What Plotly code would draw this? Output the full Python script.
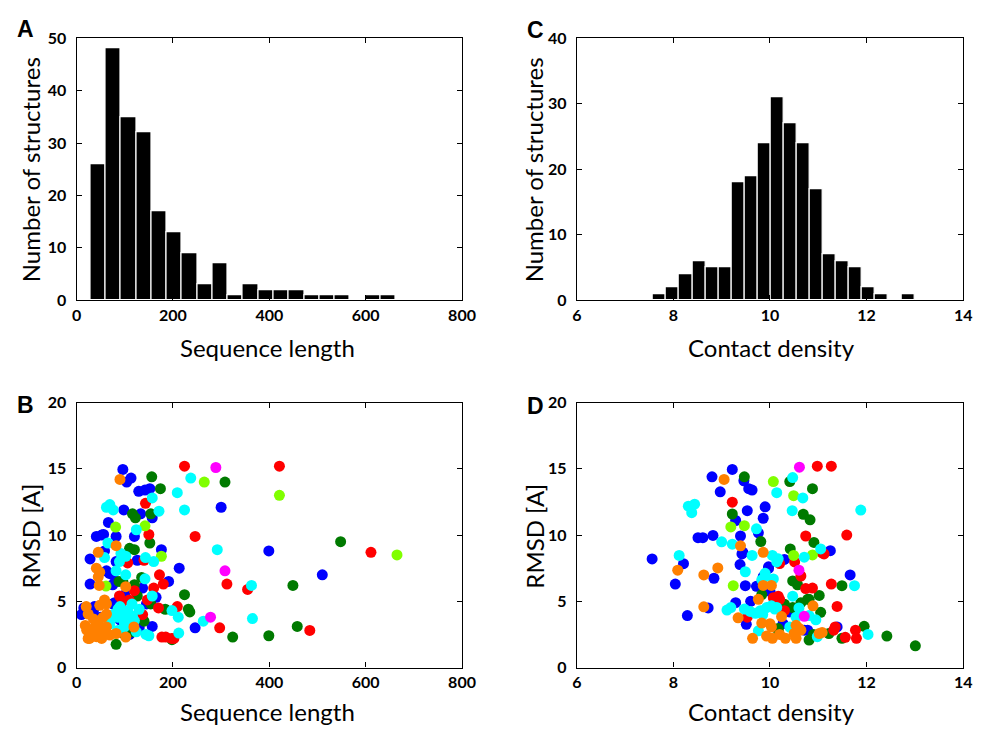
import plotly.graph_objects as go

# ---------------- DATA ----------------
# Panel A: histogram of sequence length
seq_bin_start = 28.5
seq_bin_width = 31.7
seq_counts = [26, 48, 35, 32, 17, 13, 9, 3, 7, 1, 3, 2, 2, 2, 1, 1, 1, 0, 1, 1]

# Panel C: histogram of contact density
cd_bin_start = 7.58
cd_bin_width = 0.2705
cd_counts = [1, 2, 4, 6, 5, 5, 18, 19, 24, 31, 27, 24, 17, 7, 6, 5, 2, 1, 0, 1]

# Panel B: RMSD vs sequence length, grouped by colour
b_blue_x = [96, 113, 104, 129, 142, 152, 98, 300, 133, 157, 66, 41, 52, 56, 82, 120, 58, 28, 82, 126, 176, 62, 75, 191, 213, 28, 75, 137, 79, 15, 10, 157, 246, 110, 79, 399, 510, 35, 100, 145, 165, 50, 130, 90, 68, 75, 37]
b_blue_y = [14.95, 14.3, 14.0, 13.3, 13.4, 13.5, 11.9, 12.1, 11.6, 11.3, 10.95, 9.9, 10.0, 10.05, 9.9, 9.9, 8.8, 8.2, 8.0, 8.1, 8.9, 7.3, 7.0, 6.5, 7.5, 6.3, 6.25, 6.0, 4.9, 4.5, 4.0, 3.1, 3.0, 2.5, 4.0, 8.8, 7.0, 4.3, 5.5, 4.8, 5.3, 3.8, 3.0, 3.6, 7.1, 4.8, 4.6]
b_cyan_x = [237, 157, 209, 69, 76, 62, 171, 224, 124, 65, 58, 92, 102, 89, 143, 160, 82, 102, 142, 157, 198, 211, 130, 86, 96, 106, 116, 120, 99, 85, 76, 69, 99, 212, 144, 124, 292, 363, 263, 365, 110, 90, 115, 150, 85]
b_cyan_y = [14.3, 12.8, 13.2, 12.3, 11.9, 12.1, 11.8, 11.9, 10.4, 9.4, 8.3, 8.6, 8.4, 8.0, 8.3, 8.0, 7.3, 7.0, 6.7, 5.4, 4.3, 3.8, 4.4, 4.4, 4.0, 4.3, 3.9, 3.55, 3.4, 3.8, 4.0, 3.3, 3.06, 2.6, 2.5, 2.7, 8.9, 6.2, 3.5, 3.7, 3.7, 4.6, 4.8, 2.4, 2.8]
b_orange_x = [90, 82, 45, 41, 48, 45, 47, 58, 62, 48, 20, 24, 35, 45, 55, 62, 21, 31, 41, 52, 58, 24, 69, 38, 48, 18, 62, 82, 119, 27, 102, 102]
b_orange_y = [14.2, 9.2, 8.7, 7.5, 7.2, 6.85, 6.2, 5.1, 4.8, 4.7, 4.6, 4.04, 3.67, 3.43, 3.8, 3.06, 2.82, 2.57, 2.33, 2.2, 2.57, 2.2, 2.45, 3.06, 2.82, 3.18, 4.04, 2.57, 3.06, 2.2, 6.1, 2.3]
b_red_x = [224, 143, 150, 246, 140, 106, 172, 160, 89, 109, 147, 209, 137, 185, 202, 421, 611, 312, 355, 297, 484, 120, 130, 170, 180, 95, 177, 197]
b_red_y = [15.2, 12.4, 10.05, 9.9, 8.1, 7.9, 7.0, 6.0, 5.4, 5.1, 5.1, 4.6, 4.0, 2.3, 2.2, 15.2, 8.7, 6.3, 5.9, 3.0, 2.8, 5.8, 4.2, 4.5, 6.3, 5.0, 2.3, 2.2]
b_green_x = [156, 174, 116, 122, 154, 152, 120, 120, 96, 126, 154, 224, 184, 232, 235, 82, 96, 116, 198, 308, 548, 449, 324, 399, 458, 135, 105, 140, 60, 110, 88]
b_green_y = [14.4, 13.5, 11.6, 11.3, 11.6, 9.4, 8.9, 6.25, 6.5, 5.4, 4.8, 5.5, 4.4, 4.4, 4.2, 1.75, 2.6, 2.7, 2.1, 14.0, 9.5, 6.2, 2.3, 2.4, 3.1, 6.8, 3.0, 3.5, 3.0, 9.0, 6.5]
b_lime_x = [265, 421, 665, 81, 142, 176, 61]
b_lime_y = [14.0, 13.0, 8.5, 10.6, 10.7, 8.4, 6.15]
b_magenta_x = [289, 308, 278]
b_magenta_y = [15.1, 7.3, 3.8]

# Panel D: RMSD vs contact density, grouped by colour
d_blue_x = [9.22, 8.80, 9.46, 9.56, 9.63, 8.97, 9.9, 9.53, 9.86, 9.29, 9.76, 8.51, 8.61, 8.82, 9.39, 9.44, 11.25, 7.56, 8.21, 8.84, 8.04, 9.38, 10.3, 9.97, 11.66, 9.49, 9.72, 10.0, 8.29, 9.29, 9.51, 10.78, 11.39, 10.27, 8.72, 9.42, 9.97, 9.86, 10.71, 9.6, 10.4]
d_blue_y = [14.95, 14.4, 14.1, 13.5, 13.4, 13.26, 12.13, 11.84, 11.27, 11.1, 10.17, 9.8, 9.8, 9.97, 9.93, 8.7, 8.82, 8.2, 7.84, 6.74, 6.3, 7.77, 8.16, 7.48, 6.99, 6.18, 6.13, 5.76, 3.92, 4.9, 3.26, 2.82, 3.07, 3.31, 4.5, 8.58, 7.6, 6.86, 2.82, 5.0, 4.2]
d_cyan_x = [10.47, 10.14, 10.68, 8.31, 8.44, 8.38, 10.46, 11.88, 9.72, 9.0, 9.22, 9.63, 10.05, 10.17, 10.71, 11.05, 8.12, 9.49, 9.9, 10.07, 11.75, 9.83, 10.47, 9.11, 9.19, 9.47, 9.59, 9.7, 9.8, 9.93, 10.1, 10.81, 10.95, 10.54, 9.76, 10.98, 12.03, 10.41, 10.14, 9.9, 10.03, 10.14, 10.6, 9.85]
d_cyan_y = [14.34, 13.2, 12.8, 12.18, 12.33, 11.69, 11.84, 11.89, 10.47, 9.49, 9.31, 8.46, 8.46, 8.21, 8.33, 8.95, 8.46, 7.23, 6.86, 6.69, 6.18, 6.62, 5.39, 4.34, 4.53, 4.41, 4.24, 4.09, 4.29, 4.53, 4.41, 3.92, 3.6, 3.8, 2.77, 2.33, 2.5, 3.06, 7.97, 7.11, 4.66, 4.54, 4.5, 4.0]
d_orange_x = [9.05, 9.39, 9.86, 8.09, 8.63, 8.92, 9.86, 10.03, 8.63, 9.76, 9.34, 10.89, 10.24, 9.83, 10.0, 10.54, 10.64, 11.02, 11.08, 9.64, 9.93, 10.05, 10.32, 10.54, 10.03, 10.61, 10.5, 10.2]
d_orange_y = [14.2, 9.19, 8.7, 7.35, 6.99, 7.52, 6.2, 6.2, 4.58, 5.15, 3.75, 4.66, 3.85, 3.36, 3.31, 3.19, 2.82, 2.57, 2.65, 2.21, 2.38, 2.21, 2.21, 2.21, 3.06, 2.94, 2.57, 2.5]
d_red_x = [10.98, 11.27, 9.22, 10.74, 11.59, 11.08, 10.51, 10.64, 10.74, 10.88, 11.27, 10.07, 10.17, 11.39, 9.53, 11.32, 11.56, 11.77, 11.79, 10.3, 10.2, 11.12, 10.2, 11.35]
d_red_y = [15.2, 15.2, 12.48, 9.93, 10.0, 8.65, 7.97, 6.91, 5.96, 6.0, 6.3, 5.27, 5.39, 4.61, 3.8, 2.82, 2.28, 2.82, 2.21, 4.29, 7.85, 8.58, 5.15, 3.07]
d_green_x = [9.47, 10.41, 10.88, 9.22, 10.69, 10.83, 9.81, 10.91, 10.42, 10.47, 10.57, 11.49, 10.78, 11.02, 9.83, 10.3, 10.47, 10.64, 10.81, 11.05, 10.17, 11.22, 11.95, 12.42, 13.01, 10.81, 11.49, 10.17, 10.9]
d_green_y = [14.4, 14.04, 13.5, 11.59, 11.57, 11.15, 9.51, 9.44, 8.95, 6.54, 6.25, 6.18, 5.15, 5.44, 5.51, 4.78, 4.53, 4.9, 5.15, 4.17, 2.82, 2.57, 3.11, 2.38, 1.64, 2.08, 2.21, 2.94, 2.5]
d_lime_x = [10.07, 10.49, 9.19, 9.47, 10.49, 10.88, 9.24]
d_lime_y = [14.04, 12.97, 10.61, 10.71, 8.46, 8.5, 6.18]
d_magenta_x = [10.61, 10.6, 10.71]
d_magenta_y = [15.12, 7.35, 3.87]

# ---------------- STYLE ----------------
W, H = 986, 735
C_BLUE, C_CYAN, C_ORANGE = "#0000ff", "#00ffff", "#ff8000"
C_RED, C_GREEN, C_LIME, C_MAG = "#ff0000", "#007a00", "#80ff00", "#ff00ff"
TICK_FONT = dict(family="Lato", size=16, color="black", weight="bold")
TITLE_FONT = dict(family="Lato", size=24, color="black")
LETTER_FONT = dict(family="Liberation Sans", size=23, color="black", weight="bold")
MARKER_SIZE = 11

def px_x(p):
    return p / W

def px_y(p):
    return 1 - p / H

fig = go.Figure()

# Histograms
seq_centers = [seq_bin_start + (i + 0.5) * seq_bin_width for i in range(len(seq_counts))]
cd_centers = [cd_bin_start + (i + 0.5) * cd_bin_width for i in range(len(cd_counts))]
bar_style = dict(marker=dict(color="black", line=dict(color="white", width=1.2)), showlegend=False)
fig.add_trace(go.Bar(x=seq_centers, y=seq_counts, width=seq_bin_width, xaxis="x", yaxis="y", **bar_style))
fig.add_trace(go.Bar(x=cd_centers, y=cd_counts, width=cd_bin_width, xaxis="x2", yaxis="y2", **bar_style))

# Scatter panels
groups_b = [
    (b_blue_x, b_blue_y, C_BLUE), (b_green_x, b_green_y, C_GREEN), (b_red_x, b_red_y, C_RED),
    (b_lime_x, b_lime_y, C_LIME), (b_cyan_x, b_cyan_y, C_CYAN), (b_magenta_x, b_magenta_y, C_MAG),
    (b_orange_x, b_orange_y, C_ORANGE),
]
groups_d = [
    (d_blue_x, d_blue_y, C_BLUE), (d_green_x, d_green_y, C_GREEN), (d_red_x, d_red_y, C_RED),
    (d_lime_x, d_lime_y, C_LIME), (d_cyan_x, d_cyan_y, C_CYAN), (d_magenta_x, d_magenta_y, C_MAG),
    (d_orange_x, d_orange_y, C_ORANGE),
]
for xs, ys, col in groups_b:
    fig.add_trace(go.Scatter(x=xs, y=ys, mode="markers", xaxis="x3", yaxis="y3",
                             marker=dict(color=col, size=MARKER_SIZE, line=dict(width=0)), showlegend=False))
for xs, ys, col in groups_d:
    fig.add_trace(go.Scatter(x=xs, y=ys, mode="markers", xaxis="x4", yaxis="y4",
                             marker=dict(color=col, size=MARKER_SIZE, line=dict(width=0)), showlegend=False))

axis_common = dict(showline=True, linecolor="black", linewidth=1.2, mirror="allticks",
                   ticks="inside", ticklen=5, tickcolor="black", tickwidth=1,
                   showgrid=False, zeroline=False, tickfont=TICK_FONT, fixedrange=True)

dom_left = [px_x(73), px_x(466)]
dom_right = [px_x(583), px_x(977)]
dom_top = [px_y(298), px_y(29)]
dom_bot = [px_y(675), px_y(403)]

fig.update_layout(
    width=W, height=H, margin=dict(l=0, r=0, t=0, b=0),
    paper_bgcolor="white", plot_bgcolor="white", bargap=0,
    xaxis=dict(domain=dom_left, anchor="y", range=[0, 800], tickvals=[0, 200, 400, 600, 800], **axis_common),
    yaxis=dict(domain=dom_top, anchor="x", range=[0, 50], tickvals=[0, 10, 20, 30, 40, 50], ticklabelstandoff=6, **axis_common),
    xaxis2=dict(domain=dom_right, anchor="y2", range=[6, 14], tickvals=[6, 8, 10, 12, 14], **axis_common),
    yaxis2=dict(domain=dom_top, anchor="x2", range=[0, 40], tickvals=[0, 10, 20, 30, 40], ticklabelstandoff=6, **axis_common),
    xaxis3=dict(domain=dom_left, anchor="y3", range=[0, 800], tickvals=[0, 200, 400, 600, 800], **axis_common),
    yaxis3=dict(domain=dom_bot, anchor="x3", range=[0, 20], tickvals=[0, 5, 10, 15, 20], ticklabelstandoff=6, **axis_common),
    xaxis4=dict(domain=dom_right, anchor="y4", range=[6, 14], tickvals=[6, 8, 10, 12, 14], **axis_common),
    yaxis4=dict(domain=dom_bot, anchor="x4", range=[0, 20], tickvals=[0, 5, 10, 15, 20], ticklabelstandoff=6, **axis_common),
)

annotations = [
    ("A", 21, 20, 0, LETTER_FONT), ("C", 541, 21, 0, LETTER_FONT),
    ("B", 21, 405, 0, LETTER_FONT), ("D", 541, 406, 0, LETTER_FONT),
    ("Number of structures", 26, 164, -90, TITLE_FONT), ("Number of structures", 539, 164, -90, TITLE_FONT),
    ("RMSD [A]", 26, 540, -90, TITLE_FONT), ("RMSD [A]", 539, 540, -90, TITLE_FONT),
    ("Sequence length", 268, 346, 0, TITLE_FONT), ("Contact density", 782, 346, 0, TITLE_FONT),
    ("Sequence length", 268, 720, 0, TITLE_FONT), ("Contact density", 782, 720, 0, TITLE_FONT),
]
for txt, x, y, ang, f in annotations:
    fig.add_annotation(text=txt, x=px_x(x), y=px_y(y), xref="paper", yref="paper",
                       showarrow=False, textangle=ang, font=f, xanchor="center", yanchor="middle")

fig.write_html("out.html")
